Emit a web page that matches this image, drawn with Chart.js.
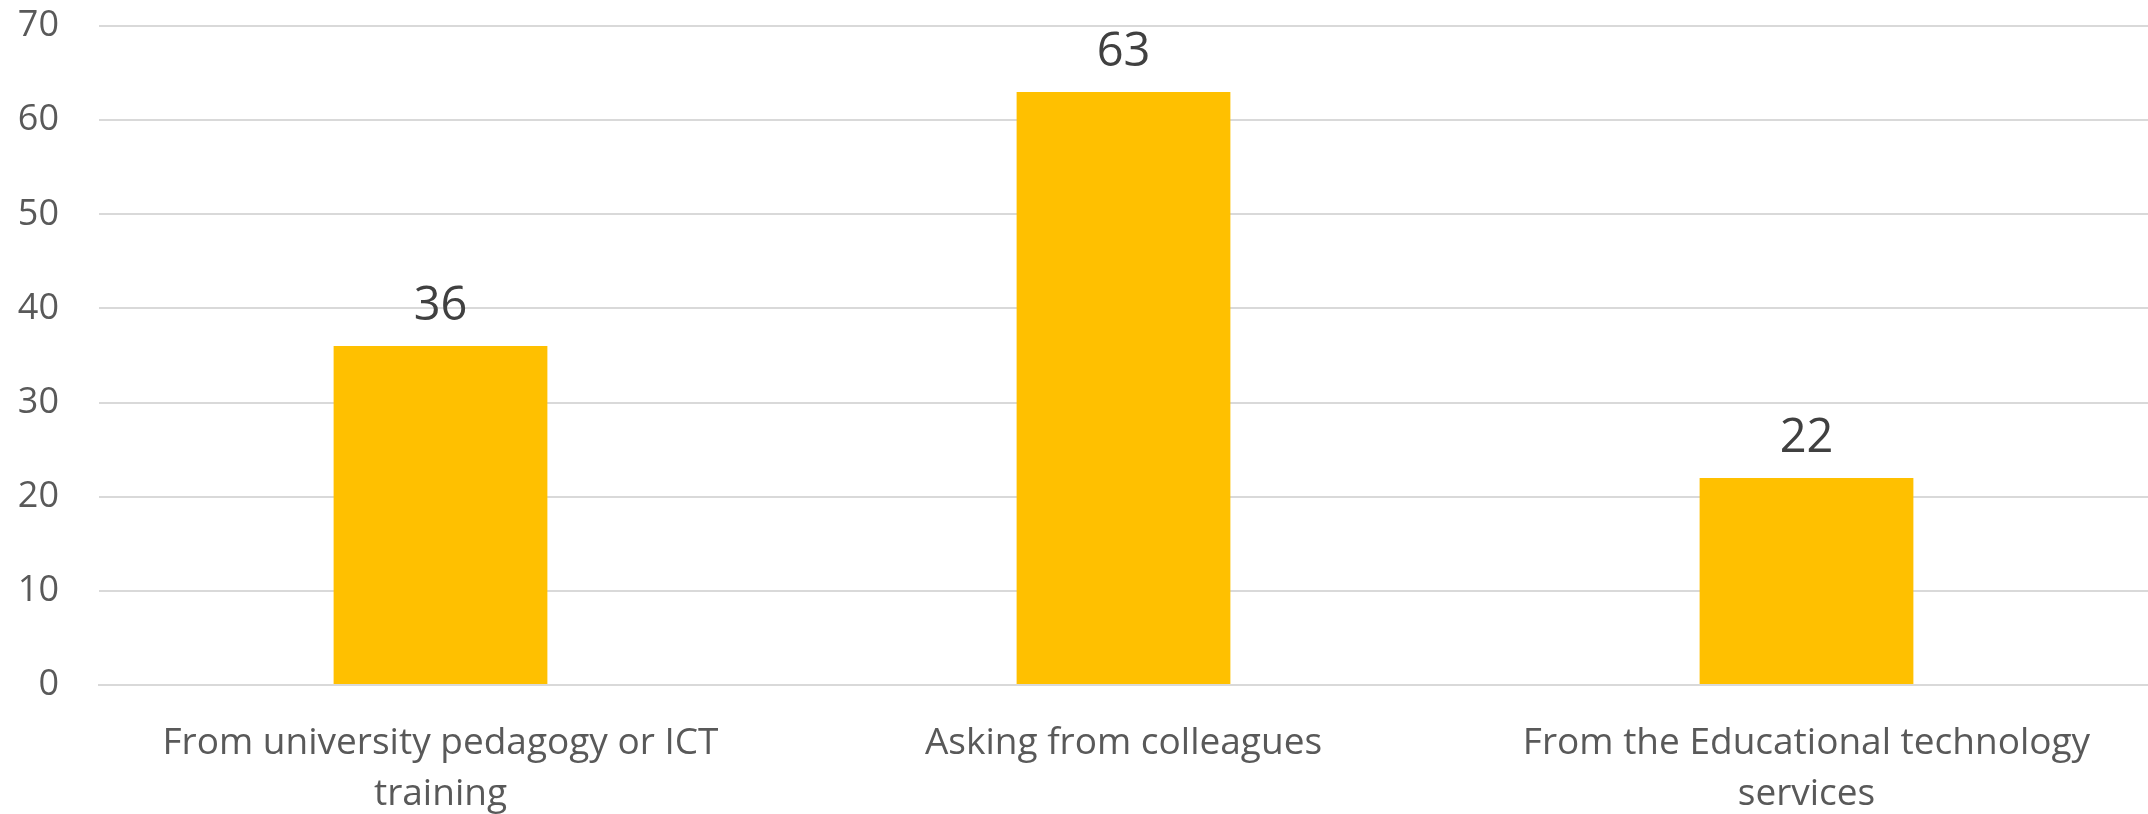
<!DOCTYPE html>
<html>
<head>
<meta charset="utf-8">
<script src="https://cdn.jsdelivr.net/npm/chart.js@4"></script>
<style>
  html, body { margin: 0; padding: 0; background: #fff; overflow: hidden; }
  canvas { display: block; }
</style>
</head>
<body>
<canvas id="sources" width="2148" height="814"></canvas>
<script>
var categories = [
    ['From university pedagogy or ICT', 'training'],
    'Asking from colleagues',
    ['From the Educational technology', 'services']
];
var answers = [36, 63, 22];
var yTicks = [0, 10, 20, 30, 40, 50, 60, 70];

// writes each bar's value just above it
var valueLabels = {
    id: 'valueLabels',
    afterDatasetsDraw: function(chart) {
        var ctx = chart.ctx;
        var meta = chart.getDatasetMeta(0);
        ctx.save();
        ctx.font = '47px "Open Sans"';
        ctx.fillStyle = '#404040';
        ctx.textAlign = 'center';
        ctx.textBaseline = 'alphabetic';
        meta.data.forEach(function(bar, i) {
            ctx.fillText(String(answers[i]), bar.x, bar.y - 26);
        });
        ctx.restore();
    }
};

var ctx = document.getElementById('sources').getContext('2d');
new Chart(ctx, {
    type: 'bar',
    data: {
        labels: categories,
        datasets: [{
            label: 'Answers',
            data: answers,
            backgroundColor: '#FFC000',
            borderWidth: 0,
            categoryPercentage: 1,
            barPercentage: 0.313
        }]
    },
    options: {
        responsive: false,
        devicePixelRatio: 1,
        animation: false,
        layout: { padding: { top: 26, right: 0, bottom: 0, left: 0 } },
        plugins: {
            legend: { display: false },
            tooltip: { enabled: false }
        },
        scales: {
            x: {
                grid: { display: false, drawTicks: false },
                border: { display: true, color: '#d9d9d9', width: 2 },
                ticks: {
                    color: '#595959',
                    font: { family: 'Open Sans', size: 37, lineHeight: 1.38 },
                    padding: 33,
                    maxRotation: 0,
                    autoSkip: false
                },
                afterFit: function(scale) {
                    scale.height = 129;
                }
            },
            y: {
                min: 0,
                max: 70,
                afterBuildTicks: function(scale) {
                    scale.ticks = yTicks.map(function(v) { return { value: v }; });
                },
                grid: { color: '#d9d9d9', lineWidth: 2, drawTicks: false },
                border: { display: false },
                ticks: {
                    color: '#595959',
                    font: { family: 'Open Sans', size: 36 },
                    padding: 40
                },
                afterFit: function(scale) {
                    scale.width = 99;
                    scale.paddingTop = 0;
                    scale.paddingBottom = 0;
                }
            }
        }
    },
    plugins: [valueLabels]
});
</script>
</body>
</html>
